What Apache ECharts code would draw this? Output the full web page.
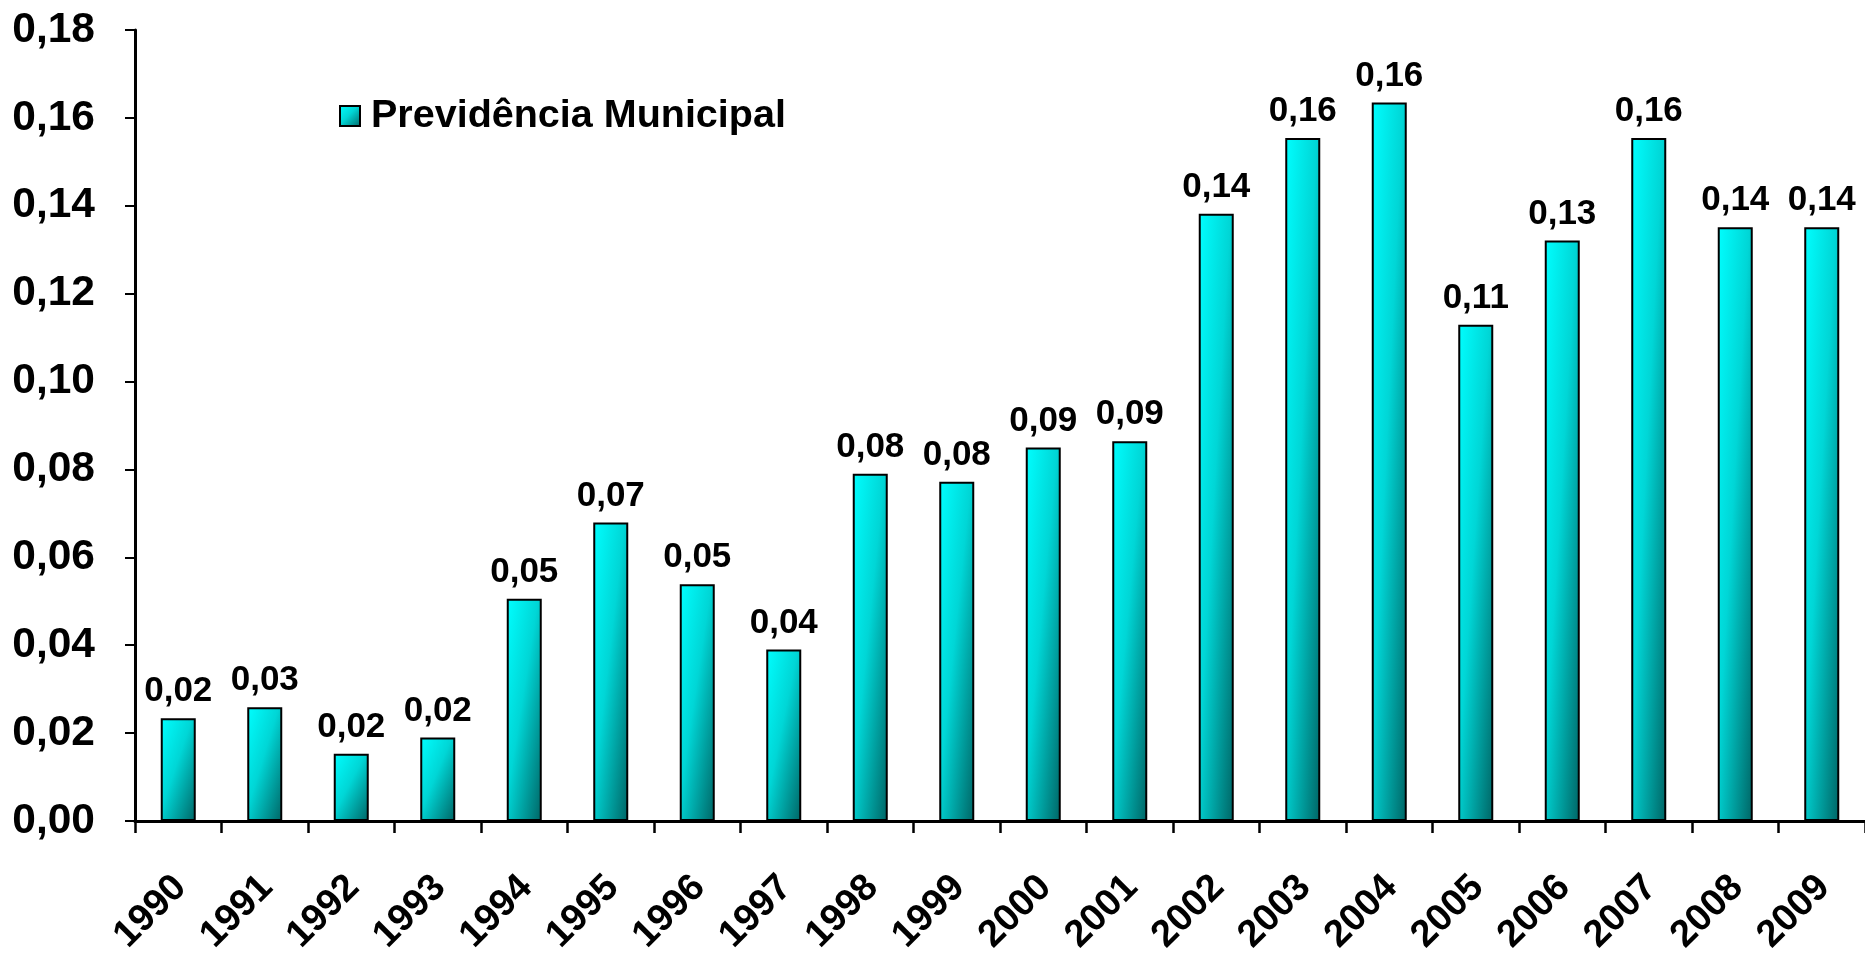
<!DOCTYPE html>
<html>
<head>
<meta charset="utf-8">
<script src="https://cdn.jsdelivr.net/npm/echarts@6/dist/echarts.min.js"></script>
<style>
html,body{margin:0;padding:0;background:#fff;}
#c{width:1865px;height:958px;}
</style>
</head>
<body>
<div id="c"></div>
<script>
const categories = ['1990','1991','1992','1993','1994','1995','1996','1997','1998','1999','2000','2001','2002','2003','2004','2005','2006','2007','2008','2009'];
const values = [0.0234,0.0259,0.0153,0.0190,0.0506,0.0679,0.0539,0.0390,0.0790,0.0772,0.0850,0.0864,0.1382,0.1554,0.1635,0.1129,0.1321,0.1554,0.1351,0.1351];
const seriesName = 'Previdência Municipal';
const yMin = 0, yMax = 0.18, yInterval = 0.02;

const FONT = '"Liberation Sans", Arial, sans-serif';
const GRID = {left: 135, top: 30, width: 1736, height: 791};
const BAR_W = 35;
const stops = [
  {offset: 0, color: '#00FFFF'},
  {offset: 0.45, color: '#00D6D6'},
  {offset: 1, color: '#006464'}
];
function fmt(v){ return v.toFixed(2).replace('.', ','); }
function gradFor(h, w){
  // diagonal gradient in the bar's unit box (like office charts)
  const d = w*w + h*h;
  return new echarts.graphic.LinearGradient(0, 0, 2*h*h/d, 2*w*w/d, stops);
}

const chart = echarts.init(document.getElementById('c'), null, {renderer: 'canvas'});
const data = values.map(v => ({
  value: v,
  itemStyle: {color: gradFor(v / (yMax - yMin) * GRID.height, BAR_W)}
}));

chart.setOption({
  animation: false,
  backgroundColor: '#ffffff',
  grid: GRID,
  legend: {
    left: 334, top: 91,
    itemWidth: 20, itemHeight: 20,
    icon: 'rect',
    textStyle: {fontFamily: FONT, fontWeight: 'bold', fontSize: 39.5, color: '#000', padding: [0,0,0,6]},
    itemStyle: {borderColor: '#000', borderWidth: 2}
  },
  xAxis: {
    type: 'category',
    data: categories,
    axisLine: {lineStyle: {color: '#000', width: 3}},
    axisTick: {show: true, length: 12, lineStyle: {color: '#000', width: 2.5}},
    axisLabel: {interval: 0, rotate: 45, margin: 36, verticalAlign: 'top', padding: [0, 16, 0, 0], fontFamily: FONT, fontWeight: 'bold', fontSize: 38, color: '#000'},
    splitLine: {show: false}
  },
  yAxis: {
    type: 'value',
    min: yMin, max: yMax, interval: yInterval,
    axisLine: {show: true, lineStyle: {color: '#000', width: 3}},
    axisTick: {show: true, length: 10, lineStyle: {color: '#000', width: 2}},
    axisLabel: {margin: 40, fontFamily: FONT, fontWeight: 'bold', fontSize: 42.5, color: '#000', formatter: fmt},
    splitLine: {show: false}
  },
  series: [{
    name: seriesName,
    type: 'bar',
    barWidth: BAR_W,
    data: data,
    itemStyle: {
      color: new echarts.graphic.LinearGradient(0, 0, 1, 1, stops),
      borderColor: '#000', borderWidth: 2
    },
    label: {
      show: true, position: 'top', distance: 9,
      fontFamily: FONT, fontWeight: 'bold', fontSize: 35, color: '#000',
      formatter: p => fmt(p.value)
    }
  }]
});
</script>
</body>
</html>
